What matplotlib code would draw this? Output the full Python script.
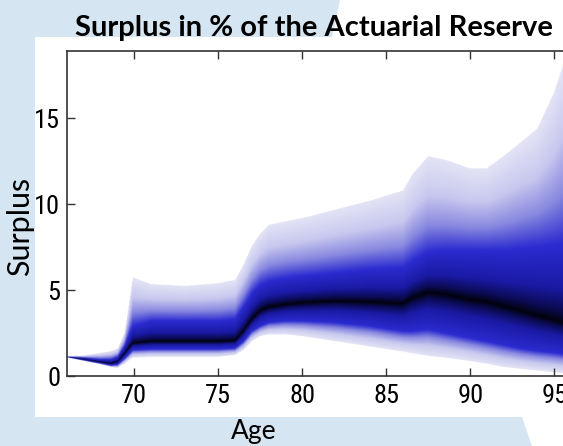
import numpy as np
import matplotlib
matplotlib.use("Agg")
from matplotlib import pyplot as plt
from matplotlib import font_manager
from matplotlib.colors import LinearSegmentedColormap
from matplotlib.patches import Polygon

# quantile curves of the surplus distribution
age = [66, 67, 68, 68.6, 69.0, 69.4, 69.9, 71, 73, 75, 76, 76.5, 77, 77.5, 78,
       79, 80, 82, 84, 86, 86.6, 87.5, 88.5, 90, 91, 92, 93, 94, 95, 96]
s_low = [1.05, 0.85, 0.65, 0.5, 0.45, 0.7, 1.05, 1.1, 1.1, 1.1, 1.2, 1.5, 2.0, 2.3, 2.4,
         2.4, 2.3, 2.0, 1.7, 1.4, 1.3, 1.15, 1.05, 0.85, 0.7, 0.5, 0.4, 0.3, 0.2, 0.1]
s_q25 = [1.08, 0.9, 0.72, 0.6, 0.65, 1.0, 1.5, 1.55, 1.55, 1.55, 1.6, 2.0, 2.6, 2.9, 3.1,
         3.2, 3.2, 3.1, 2.9, 2.6, 2.6, 2.7, 2.5, 2.2, 2.0, 1.8, 1.6, 1.45, 1.35, 1.2]
s_med = [1.1, 0.95, 0.8, 0.72, 0.85, 1.3, 1.9, 2.0, 2.0, 2.0, 2.05, 2.6, 3.3, 3.8, 4.0,
         4.15, 4.25, 4.35, 4.3, 4.2, 4.55, 4.85, 4.75, 4.45, 4.3, 4.05, 3.8, 3.5, 3.25, 3.0]
s_q75 = [1.12, 1.05, 0.95, 0.95, 1.1, 1.7, 2.9, 3.2, 3.2, 3.2, 3.3, 4.0, 4.8, 5.3, 5.5,
         5.7, 5.8, 6.0, 6.2, 6.3, 6.7, 7.2, 7.3, 7.3, 7.3, 7.3, 7.4, 7.5, 7.6, 7.7]
s_high = [1.15, 1.2, 1.35, 1.45, 1.6, 2.5, 5.75, 5.35, 5.25, 5.4, 5.6, 6.5, 7.6, 8.3, 8.8,
          9.0, 9.2, 9.7, 10.2, 10.8, 11.8, 12.8, 12.6, 12.1, 12.1, 12.8, 13.6, 14.4, 16.5, 19.5]

x_ticks = [70, 75, 80, 85, 90, 95]
y_ticks = [0, 5, 10, 15]

# look for a narrow sans face for the tick numbers
narrow = None
for f in font_manager.fontManager.ttflist:
    st = str(f.stretch).lower()
    if ("narrow" in f.name.lower() or "condensed" in f.name.lower() or "condensed" in st) \
            and f.style == "normal" and str(f.weight) in ("400", "normal", "regular") \
            and "mono" not in f.name.lower() and "serif" not in f.name.lower():
        narrow = f.fname
        if "Liberation" in f.name:
            break
if narrow:
    tick_prop = font_manager.FontProperties(fname=narrow, size=19)
else:
    tick_prop = font_manager.FontProperties(family="Liberation Sans", size=16)
label_font = ["Lato", "DejaVu Sans"]

fig = plt.figure(figsize=(5.63, 4.46), dpi=100)

# light blue slide watermark behind the chart
wm = "#d6e5f2"
for pts in ([(0, 0), (340, 0), (332, 37), (35, 37), (35, 417), (0, 417)],
            [(0, 417), (522, 417), (532, 446), (0, 446)]):
    fig.patches.append(Polygon([(px / 563, 1 - py / 446) for px, py in pts],
                               closed=True, transform=fig.transFigure,
                               facecolor=wm, edgecolor="none", zorder=0))

ax = fig.add_axes([67 / 563, 70 / 446, 504 / 563, 325 / 446])

# density image built from the quantile curves
xs = np.linspace(66, 96, 700)
ys = np.linspace(0, 19.5, 900)
img = np.full((len(ys), len(xs)), np.nan)
for j, xv in enumerate(xs):
    q = [np.interp(xv, age, c) for c in (s_low, s_q25, s_med, s_q75, s_high)]
    t = np.interp(ys, q, [0, 0.25, 0.5, 0.75, 1.0])
    inside = (ys >= q[0]) & (ys <= q[4])
    img[inside, j] = 1 - np.abs(2 * t[inside] - 1)

cmap = LinearSegmentedColormap.from_list("fan", [
    (0.0, "#e4e4f6"), (0.2, "#c8c8ef"), (0.36, "#8888e0"), (0.5, "#2b2bd0"),
    (0.78, "#1a1aa5"), (0.92, "#0b0b55"), (1.0, "#02020f")])
cmap.set_bad((1, 1, 1, 0))
ax.imshow(np.ma.masked_invalid(img), origin="lower", extent=[66, 96, 0, 19.5],
          aspect="auto", cmap=cmap, vmin=0, vmax=1, interpolation="bilinear")

ax.set_xlim(66, 96)
ax.set_ylim(0, 18.9)
ax.set_xticks(x_ticks)
ax.set_yticks(y_ticks)
ax.tick_params(axis="both", direction="in", length=6, width=1, color="#333333",
               top=True, right=True)
ax.tick_params(axis="x", pad=6)
ax.tick_params(axis="y", pad=5)
for lab in ax.get_xticklabels() + ax.get_yticklabels():
    lab.set_fontproperties(tick_prop)
for sp in ax.spines.values():
    sp.set_color("#333333")
    sp.set_linewidth(1.2)

fig.text(314 / 563, 1 - 28 / 446, "Surplus in % of the Actuarial Reserve",
         ha="center", va="center", fontsize=21, fontweight="bold", family=label_font)
fig.text(254 / 563, 1 - 432 / 446, "Age", ha="center", va="center",
         fontsize=19, family=label_font)
fig.text(20 / 563, 1 - 226 / 446, "Surplus", ha="center", va="center",
         rotation=90, fontsize=22, family=label_font)

fig.savefig("out.png", dpi=100)
